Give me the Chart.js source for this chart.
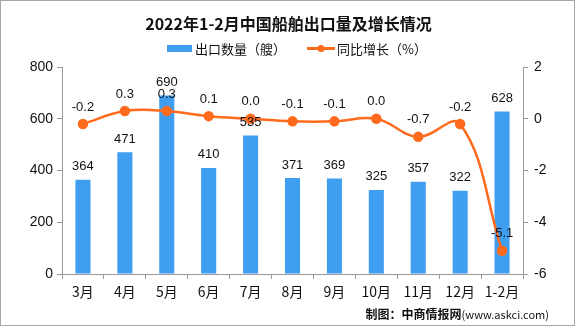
<!DOCTYPE html>
<html>
<head>
<meta charset="utf-8">
<script src="https://cdn.jsdelivr.net/npm/chart.js@4"></script>
<style>
  body { margin: 0; background: #fff; }
  #wrap { position: relative; width: 575px; height: 326px; box-sizing: border-box; border: 1px solid #a6a6a6; overflow: hidden; }
  #c { position: absolute; left: -1px; top: -1px; }
  .t { position: absolute; white-space: nowrap; font-family: "Noto Sans CJK SC", sans-serif; }
  #title { left: 0; width: 575px; top: 10px; text-align: center; font-size: 16px; font-weight: bold; color: #111; }
  #footer { right: 25px; top: 304px; font-size: 12px; color: #111; }
  #footer span { font-size: 11px; }
</style>
</head>
<body>
<div id="wrap">
  <canvas id="c" width="575" height="326"></canvas>
  <div class="t" id="title">2022年1-2月中国船舶出口量及增长情况</div>
  <div class="t" id="footer"><b>制图：中商情报网</b><span>(www.askci.com)</span></div>
</div>
<script>
// Daten
const months = ['3月', '4月', '5月', '6月', '7月', '8月', '9月', '10月', '11月', '12月', '1-2月'];
const exportCount = [364, 471, 690, 410, 535, 371, 369, 325, 357, 322, 628];
const growthRate = [-0.2, 0.3, 0.3, 0.1, 0.0, -0.1, -0.1, 0.0, -0.7, -0.2, -5.1];
const leftTicks = [0, 200, 400, 600, 800];
const rightTicks = [-6, -4, -2, 0, 2];

const barColor = '#3f9ef0';
const lineColor = '#ff6a1c';
const numFont = '13px "Liberation Sans", sans-serif';

// Werte über Balken und Punkten zeichnen
const valueLabels = {
    id: 'valueLabels',
    afterDatasetsDraw(chart) {
        const ctx = chart.ctx;
        ctx.save();
        ctx.font = numFont;
        ctx.fillStyle = '#111';
        ctx.textAlign = 'center';
        ctx.textBaseline = 'middle';
        chart.getDatasetMeta(0).data.forEach((bar, i) => {
            ctx.fillText(exportCount[i], bar.x, bar.y - 13);
        });
        chart.getDatasetMeta(1).data.forEach((pt, i) => {
            ctx.fillText(growthRate[i].toFixed(1), pt.x, pt.y - 17);
        });
        ctx.restore();
    }
};

// Eigene Legende
const customLegend = {
    id: 'customLegend',
    afterDraw(chart) {
        const ctx = chart.ctx;
        ctx.save();
        ctx.fillStyle = barColor;
        ctx.fillRect(167, 45, 25, 7);
        ctx.strokeStyle = lineColor;
        ctx.lineWidth = 3;
        ctx.beginPath();
        ctx.moveTo(307, 48.5);
        ctx.lineTo(335, 48.5);
        ctx.stroke();
        ctx.fillStyle = lineColor;
        ctx.beginPath();
        ctx.arc(321, 48.5, 3.5, 0, Math.PI * 2);
        ctx.fill();
        ctx.font = '13px "Noto Sans CJK SC", sans-serif';
        ctx.fillStyle = '#111';
        ctx.textBaseline = 'middle';
        ctx.fillText('出口数量（艘）', 195, 49);
        ctx.fillText('同比增长（%）', 337, 49);
        ctx.restore();
    }
};

new Chart(document.getElementById('c'), {
    data: {
        labels: months,
        datasets: [
            {
                type: 'bar',
                label: '出口数量（艘）',
                data: exportCount,
                backgroundColor: barColor,
                yAxisID: 'y',
                barPercentage: 0.36,
                categoryPercentage: 1,
                order: 2
            },
            {
                type: 'line',
                label: '同比增长（%）',
                data: growthRate,
                borderColor: lineColor,
                backgroundColor: lineColor,
                borderWidth: 2.5,
                pointRadius: 4,
                pointHoverRadius: 4,
                tension: 0.4,
                yAxisID: 'y1',
                order: 1
            }
        ]
    },
    options: {
        responsive: false,
        animation: false,
        layout: { padding: { top: 67, left: 0, right: 0, bottom: 0 } },
        plugins: { legend: { display: false }, tooltip: { enabled: false } },
        scales: {
            x: {
                offset: true,
                grid: { offset: true, drawOnChartArea: false, tickLength: 5, color: '#999' },
                border: { color: '#999' },
                ticks: { color: '#111', font: { size: 14, family: '"Noto Sans CJK SC", sans-serif' }, padding: 4 },
                afterFit(s) { s.height = 52; }
            },
            y: {
                position: 'left',
                min: 0,
                max: 800,
                afterBuildTicks(s) { s.ticks = leftTicks.map(v => ({ value: v })); },
                grid: { drawOnChartArea: false, tickLength: 5, color: '#999' },
                border: { color: '#999' },
                ticks: { color: '#111', font: { size: 14, family: '"Liberation Sans", sans-serif' }, padding: 4 },
                afterFit(s) { s.width = 62; }
            },
            y1: {
                position: 'right',
                min: -6,
                max: 2,
                afterBuildTicks(s) { s.ticks = rightTicks.map(v => ({ value: v })); },
                grid: { drawOnChartArea: false, tickLength: 5, color: '#999' },
                border: { color: '#999' },
                ticks: { color: '#111', font: { size: 14, family: '"Liberation Sans", sans-serif' }, padding: 6 },
                afterFit(s) { s.width = 52; }
            }
        }
    },
    plugins: [valueLabels, customLegend]
});
</script>
</body>
</html>
